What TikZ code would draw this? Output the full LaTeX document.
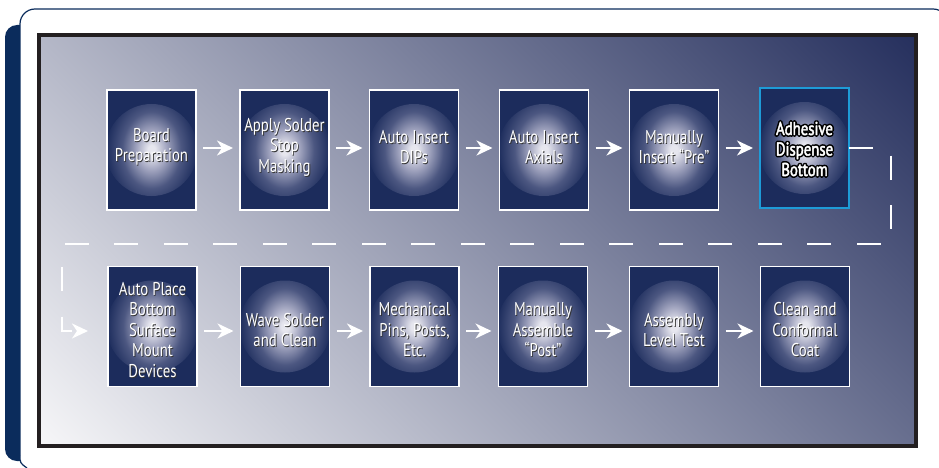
\documentclass[tikz,border=0pt]{standalone}
\usepackage{fontspec}
\usepackage{xcolor}
\usepackage{tikz}
\usetikzlibrary{arrows.meta}
\newfontfamily\stepfont{PT Sans}[FakeStretch=0.8]
\definecolor{FrameNavy}{HTML}{0B2C5C}
\definecolor{BoxNavy}{RGB}{28,44,92}
\definecolor{GlowCore}{RGB}{230,230,238}
\definecolor{GlowMid}{RGB}{164,167,193}
\definecolor{GlowLow}{RGB}{76,87,129}
\definecolor{BgLight}{RGB}{246,246,248}
\definecolor{BgDark}{RGB}{38,48,94}
\definecolor{RimBlue}{HTML}{1E9BD7}
\definecolor{RimBlack}{HTML}{231F20}
\pgfdeclareradialshading{glow}{\pgfpoint{0bp}{0bp}}{color(0bp)=(GlowCore); color(2bp)=(GlowCore); color(8bp)=(GlowMid); color(16bp)=(GlowLow); color(25bp)=(BoxNavy); color(50bp)=(BoxNavy)}
\newcommand{\haloon}{\special{pdf:literal direct 0 0 0 RG 3.6 w 1 j 1 Tr}}
\newcommand{\fatton}{\special{pdf:literal direct 1 1 1 RG 0.45 w 1 j 2 Tr}}
\newcommand{\rimoff}{\special{pdf:literal direct 0 Tr}}
\newcommand{\stagetext}[3]{%
  \node[txtshadow] (#1-sh) at ([shift={(0.9,0.9)}]#2) {#3};
  \node[txt] (#1) at (#2) {#3};}

\begin{document}
\begin{tikzpicture}[x=1pt, y=-1pt,
      every node/.append style={inner sep=0pt, outer sep=0pt},
      txt/.style={font=\stepfont\fontsize{18.5}{20.5}\selectfont, align=center, text=white},
      txtshadow/.style={txt, text=black!80},
      procbox/.style={draw=white, line width=1.5pt, fill=BoxNavy, minimum width=89pt, minimum height=120pt,
        path picture={\shade[shading=glow] (path picture bounding box.center) circle (46pt);}},
      flow/.style={-{Stealth[length=16pt,width=15pt,inset=5pt]}, white, line width=2.5pt, shorten <=7pt, shorten >=7pt}]
      \tikzstyle{dashflow} = [-{Stealth[length=16pt,width=15pt,inset=5pt]}, white, line width=2.5pt, dash pattern=on 24pt off 25.5pt, shorten >=20pt]
      \useasboundingbox (0,0) rectangle (939,468);
      \fill[FrameNavy, rounded corners=12pt] (5,25) rectangle (32,461);
      \fill[white, rounded corners=15pt] (20,480) -- (20,9) -- (950,9) -- (950,480) -- cycle;
      \draw[FrameNavy, line width=1.2pt, rounded corners=15pt] (20,455) -- (20,9) -- (948,9) -- (948,60);
      \draw[FrameNavy, line width=1.2pt] (20,455) .. controls (20,463) .. (27,468);
      \begin{scope}
        \clip (39,35) rectangle (916,446);
        \shade[left color=BgLight, right color=BgDark, shading angle=135] (22.5,-214.5) rectangle (932.5,695.5);
      \end{scope}
      \draw[RimBlack, line width=3.5pt] (39,35) rectangle (916,446);

      \node[procbox] (boardprep) at (151.5,150) {};
      \node[procbox] (soldermask) at (284.5,150) {};
      \node[procbox] (insertdip) at (414,150) {};
      \node[procbox] (insertaxial) at (544,150) {};
      \node[procbox] (insertpre) at (674,150) {};
      \node[procbox, draw=RimBlue] (adhesive) at (804.5,148) {};
      \node[procbox] (placebottom) at (152.5,326.5) {};
      \node[procbox] (wavesolder) at (285,326.5) {};
      \node[procbox] (mechpins) at (414.5,326.5) {};
      \node[procbox] (assemblepost) at (543,326.5) {};
      \node[procbox] (leveltest) at (674,326.5) {};
      \node[procbox] (conformal) at (805,326.5) {};

      \stagetext{boardprep-t}{151.5,147}{Board\\Preparation}
      \stagetext{soldermask-t}{284.5,147}{Apply Solder\\Stop\\Masking}
      \stagetext{insertdip-t}{414,147}{Auto Insert\\DIPs}
      \stagetext{insertaxial-t}{544,147}{Auto Insert\\Axials}
      \stagetext{insertpre-t}{674,147}{Manually\\Insert “Pre”}
      \node[txt, text=black] (adhesive-o) at (804.5,149) {\haloon Adhesive\\Dispense\\Bottom\rimoff};
      \node[txt] (adhesive-t) at (804.5,149) {\fatton Adhesive\\Dispense\\Bottom\rimoff};
      \stagetext{placebottom-t}{152.5,330}{Auto Place\\Bottom\\Surface\\Mount\\Devices}
      \stagetext{wavesolder-t}{285,330}{Wave Solder\\and Clean}
      \stagetext{mechpins-t}{414.5,330}{Mechanical\\Pins, Posts,\\Etc.}
      \stagetext{assemblepost-t}{543,330}{Manually\\Assemble\\“Post”}
      \stagetext{leveltest-t}{674,330}{Assembly\\Level Test}
      \stagetext{conformal-t}{805,330}{Clean and\\Conformal\\Coat}

      \draw[flow] ([yshift=2pt]boardprep.east) -- ([yshift=2pt]soldermask.west);
      \draw[flow] ([yshift=2pt]soldermask.east) -- ([yshift=2pt]insertdip.west);
      \draw[flow] ([yshift=2pt]insertdip.east) -- ([yshift=2pt]insertaxial.west);
      \draw[flow] ([yshift=2pt]insertaxial.east) -- ([yshift=2pt]insertpre.west);
      \draw[flow] (insertpre.east |- adhesive.east) -- (adhesive.west);
      \draw[flow] ([yshift=-4.5pt]placebottom.east) -- ([yshift=-4.5pt]wavesolder.west);
      \draw[flow] ([yshift=-4.5pt]wavesolder.east) -- ([yshift=-4.5pt]mechpins.west);
      \draw[flow] ([yshift=-4.5pt]mechpins.east) -- ([yshift=-4.5pt]assemblepost.west);
      \draw[flow] ([yshift=-4.5pt]assemblepost.east) -- ([yshift=-4.5pt]leveltest.west);
      \draw[flow] ([yshift=-4.5pt]leveltest.east) -- ([yshift=-4.5pt]conformal.west);
      \draw[dashflow] (adhesive.east) -- (891,148) -- (891,244) -- (62,244) -- (62,331) -- ([yshift=-4.5pt]placebottom.west);
\end{tikzpicture}
\end{document}
